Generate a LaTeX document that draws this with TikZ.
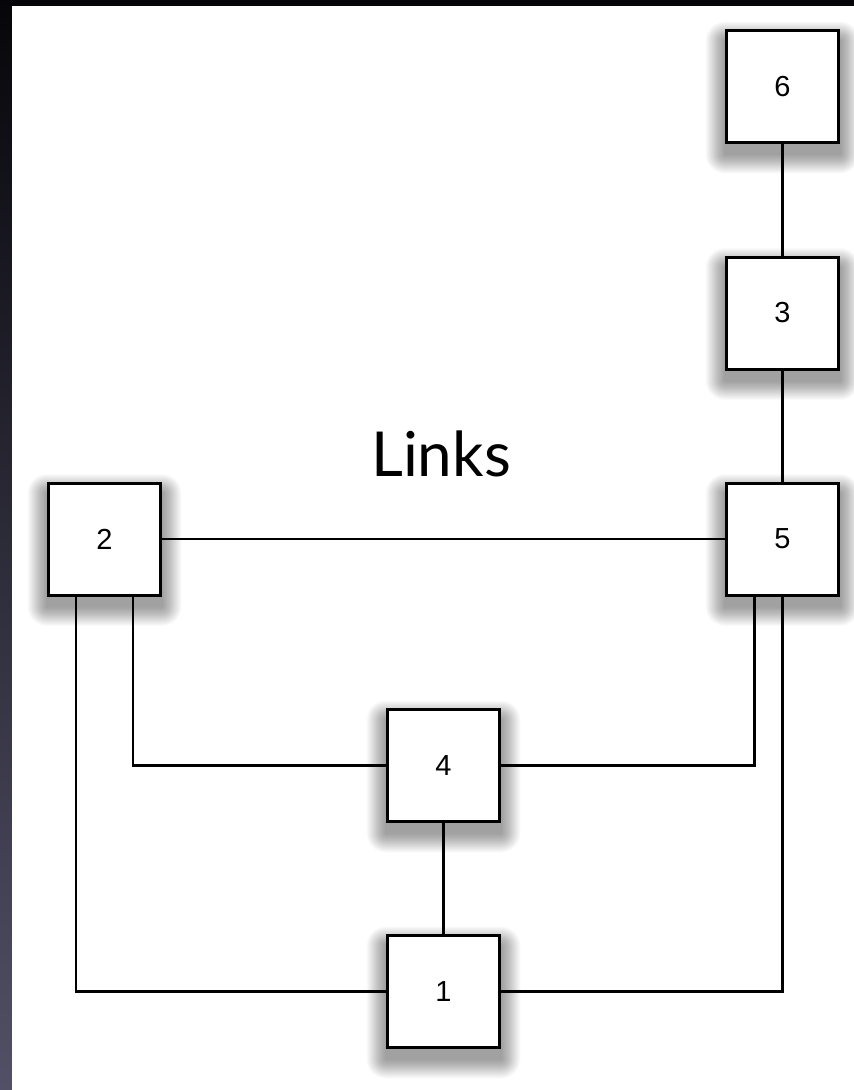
\documentclass[tikz,border=0pt]{standalone}
\usepackage{fontspec}
\setmainfont{Liberation Sans}
\newfontfamily\linksfont{Lato}
\usetikzlibrary{backgrounds,calc}
\definecolor{frametop}{RGB}{6,6,10}
\definecolor{framebot}{RGB}{82,80,102}
\tikzset{
  nodebox/.style={draw=black, line width=3pt, fill=white, minimum width=112pt, minimum height=112pt, inner sep=0pt, font=\fontsize{29}{29}\selectfont},
  link/.style={line width=2.2pt, draw=black},
}
\newcommand\boxshadow[1]{%
  \begin{pgfonlayer}{background}
  \foreach \k in {1,...,26}{
    \pgfmathsetmacro\d{0.75*\k}
    \fill[black,opacity=0.016,rounded corners=\d pt] ($(#1.north west)+(-\d,-\d+12)$) rectangle ($(#1.south east)+(\d,\d+10)$);
  }
  \end{pgfonlayer}}
\begin{document}
\begin{tikzpicture}[x=1pt,y=-1pt]
\useasboundingbox (0,0) rectangle (854,1090);
\begin{pgfonlayer}{background}
  \shade[top color=frametop,bottom color=framebot] (0,0) rectangle (12,1090);
  \fill[frametop] (0,0) rectangle (854,6);
  \fill[white] (12,6) rectangle (854,1090);
\end{pgfonlayer}

\node[nodebox] (n6) at (782.5,86.5) {6};
\node[nodebox] (n3) at (782.5,313) {3};
\node[nodebox] (n5) at (782.5,539) {5};
\node[nodebox] (n2) at (104.5,539) {2};
\node[nodebox] (n4) at (443.5,765.5) {4};
\node[nodebox] (n1) at (443.5,991.5) {1};

\boxshadow{n6}
\boxshadow{n3}
\boxshadow{n5}
\boxshadow{n2}
\boxshadow{n4}
\boxshadow{n1}

\node[font=\linksfont\fontsize{62}{62}\selectfont, anchor=base, inner sep=0pt] (title) at (441,476) {Links};

\draw[link] (n6) -- (n3);
\draw[link] (n3) -- (n5);
\draw[link] (n2) -- (n5);
\draw[link] (n4) -- (n1);
\draw[link] ([xshift=28.5pt]n2.south) |- (n4.west);
\draw[link] ([xshift=-28.5pt]n2.south) |- (n1.west);
\draw[link] ([xshift=-28pt]n5.south) |- (n4.east);
\draw[link] (n5.south) |- (n1.east);
\end{tikzpicture}
\end{document}
